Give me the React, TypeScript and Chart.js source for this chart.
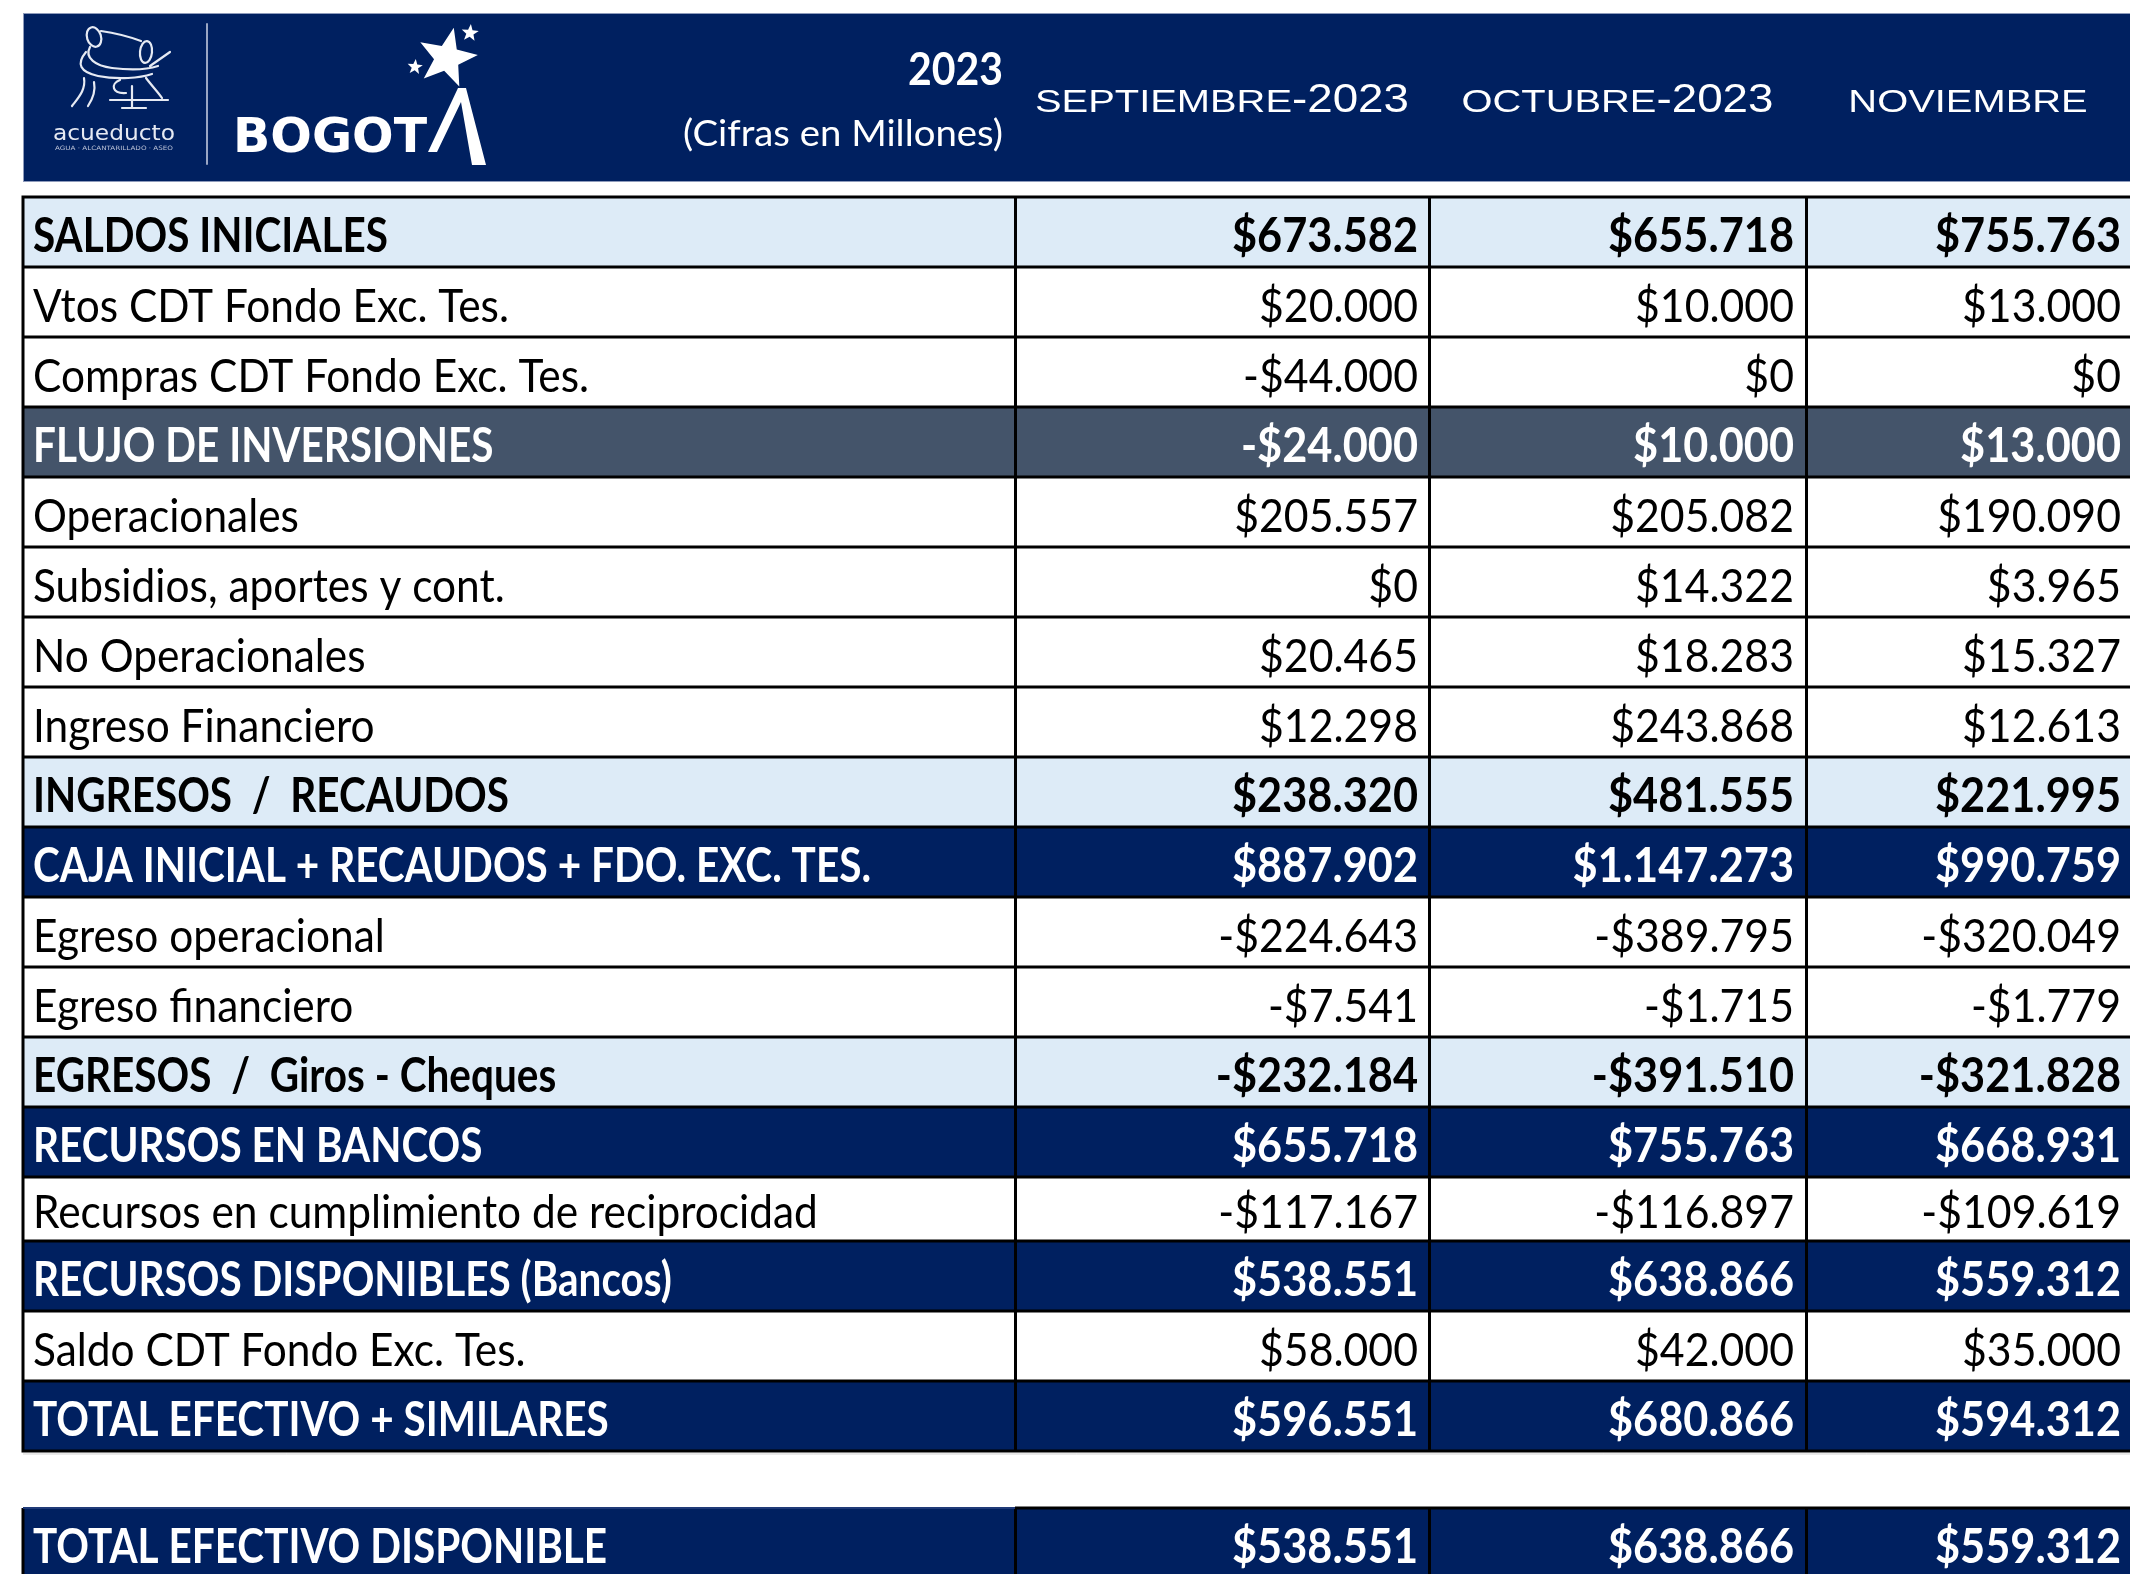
import React, { useEffect, useRef } from 'react';
import { Chart, registerables } from 'chart.js';

Chart.register(...registerables);

// ---------------- DATA ----------------
const rowLabels = [
  'SALDOS INICIALES',
  'Vtos CDT Fondo Exc. Tes.',
  'Compras CDT Fondo Exc. Tes.',
  'FLUJO DE INVERSIONES',
  'Operacionales',
  'Subsidios, aportes y cont.',
  'No Operacionales',
  'Ingreso Financiero',
  'INGRESOS  /  RECAUDOS',
  'CAJA INICIAL + RECAUDOS + FDO. EXC. TES.',
  'Egreso operacional',
  'Egreso financiero',
  'EGRESOS  /  Giros - Cheques',
  'RECURSOS EN BANCOS',
  'Recursos en cumplimiento de reciprocidad',
  'RECURSOS DISPONIBLES (Bancos)',
  'Saldo CDT Fondo Exc. Tes.',
  'TOTAL EFECTIVO + SIMILARES',
  'TOTAL EFECTIVO DISPONIBLE',
];

const rowKinds = [
  'light', 'plain', 'plain', 'slate', 'plain', 'plain', 'plain', 'plain', 'light',
  'navy', 'plain', 'plain', 'light', 'navy', 'plain', 'navy', 'plain', 'navy', 'navy',
];

const monthNames = ['SEPTIEMBRE', 'OCTUBRE', 'NOVIEMBRE'];
const monthYears = ['-2023', '-2023', ''];
const headerYear = '2023';
const headerNote = '(Cifras en Millones)';

const septiembre = [
  673582, 20000, -44000, -24000, 205557, 0, 20465, 12298, 238320,
  887902, -224643, -7541, -232184, 655718, -117167, 538551, 58000, 596551, 538551,
];
const octubre = [
  655718, 10000, 0, 10000, 205082, 14322, 18283, 243868, 481555,
  1147273, -389795, -1715, -391510, 755763, -116897, 638866, 42000, 680866, 638866,
];
const noviembre = [
  755763, 13000, 0, 13000, 190090, 3965, 15327, 12613, 221995,
  990759, -320049, -1779, -321828, 668931, -109619, 559312, 35000, 594312, 559312,
];

// ---------------- LAYOUT / STYLE ----------------
const W = 2130;
const H = 1574;
const TABLE_TOP = 197;
const ROW_H = 70;
const COL_EDGES = [23, 1015, 1429, 1806, 2130];
const NUM_PAD = [11, 12, 9];
const rowHeights = rowLabels.map((_, i) => (i === 14 ? 0.914 : 1));
const GAP_BEFORE_LAST = 0.816;
const HEADER_TOP = (13 - TABLE_TOP) / ROW_H;
const HEADER_BOTTOM = (182 - TABLE_TOP) / ROW_H;

const NAVY = '#002060';
const SLATE = '#44546A';
const LIGHT = '#DDEBF7';
const FONT = 'Lato, "Noto Sans", sans-serif';

function fmt(v: number): string {
  const s = Math.abs(v).toString().replace(/\B(?=(\d{3})+(?!\d))/g, '.');
  return (v < 0 ? '-' : '') + '$' + s;
}

function fitScale(ctx: CanvasRenderingContext2D, font: string, sample: string, target: number) {
  ctx.font = font;
  return target / ctx.measureText(sample).width;
}

function drawText(
  ctx: CanvasRenderingContext2D,
  text: string,
  x: number,
  y: number,
  font: string,
  sx: number,
  align: 'left' | 'right' | 'center',
  color: string
) {
  ctx.font = font;
  const w = ctx.measureText(text).width * sx;
  const left = align === 'right' ? x - w : align === 'center' ? x - w / 2 : x;
  ctx.save();
  ctx.translate(left, y);
  ctx.scale(sx, 1);
  ctx.textAlign = 'left';
  ctx.textBaseline = 'alphabetic';
  ctx.fillStyle = color;
  ctx.fillText(text, 0, 0);
  ctx.restore();
}

function star(ctx: CanvasRenderingContext2D, cx: number, cy: number, r: number, rot: number) {
  ctx.beginPath();
  for (let i = 0; i < 10; i++) {
    const rr = i % 2 === 0 ? r : r * 0.42;
    const a = -Math.PI / 2 + rot + (i * Math.PI) / 5;
    const px = cx + rr * Math.cos(a);
    const py = cy + rr * Math.sin(a);
    if (i === 0) ctx.moveTo(px, py);
    else ctx.lineTo(px, py);
  }
  ctx.closePath();
  ctx.fill();
}

function drawLogo(ctx: CanvasRenderingContext2D) {
  ctx.save();
  ctx.strokeStyle = '#e6eaf3';
  ctx.lineWidth = 2.2;
  ctx.lineCap = 'round';
  ctx.lineJoin = 'round';
  ctx.beginPath();
  // eyes
  ctx.ellipse(94, 37, 7, 10, -0.3, 0, Math.PI * 2);
  ctx.moveTo(152, 52);
  ctx.ellipse(146, 52, 6, 11, 0.1, 0, Math.PI * 2);
  // head
  ctx.moveTo(101, 31);
  ctx.quadraticCurveTo(122, 34, 141, 41);
  ctx.moveTo(90, 47);
  ctx.bezierCurveTo(84, 58, 96, 66, 112, 68);
  ctx.bezierCurveTo(128, 70, 146, 70, 158, 66);
  ctx.moveTo(86, 52);
  ctx.bezierCurveTo(76, 64, 80, 72, 98, 76);
  ctx.bezierCurveTo(118, 80, 140, 78, 152, 74);
  ctx.moveTo(150, 66);
  ctx.lineTo(170, 52);
  // legs
  ctx.moveTo(84, 78);
  ctx.bezierCurveTo(86, 90, 78, 98, 72, 106);
  ctx.moveTo(94, 82);
  ctx.bezierCurveTo(96, 92, 92, 100, 88, 106);
  ctx.moveTo(120, 80);
  ctx.bezierCurveTo(110, 84, 112, 94, 126, 93);
  ctx.moveTo(132, 86);
  ctx.lineTo(132, 108);
  ctx.moveTo(122, 108);
  ctx.lineTo(146, 108);
  ctx.moveTo(110, 100);
  ctx.lineTo(168, 100);
  ctx.moveTo(146, 78);
  ctx.bezierCurveTo(152, 86, 158, 92, 162, 98);
  ctx.stroke();

  const af = '22px "DejaVu Sans"';
  drawText(ctx, 'acueducto', 53, 140, af, fitScale(ctx, af, 'acueducto', 122), 'left', '#e6eaf3');
  const sf = '6px "DejaVu Sans"';
  drawText(ctx, 'AGUA · ALCANTARILLADO · ASEO', 55, 150, sf, fitScale(ctx, sf, 'AGUA · ALCANTARILLADO · ASEO', 118), 'left', '#b8c0d6');

  // divider
  ctx.strokeStyle = '#9aa6c4';
  ctx.lineWidth = 2;
  ctx.beginPath();
  ctx.moveTo(207, 24);
  ctx.lineTo(207, 164);
  ctx.stroke();

  // BOGOTA
  const bf = 'bold 48px "DejaVu Sans"';
  const bsx = fitScale(ctx, bf, 'BOGOT', 194);
  drawText(ctx, 'BOGOT', 233, 152, bf, bsx, 'left', '#ffffff');
  ctx.fillStyle = '#ffffff';
  ctx.beginPath();
  ctx.moveTo(428, 152);
  ctx.lineTo(437, 152);
  ctx.lineTo(461, 102);
  ctx.lineTo(472, 165);
  ctx.lineTo(486, 165);
  ctx.lineTo(466, 88);
  ctx.lineTo(458, 88);
  ctx.closePath();
  ctx.fill();
  star(ctx, 447, 58, 31, 0.22);
  star(ctx, 470, 33, 9, 0.1);
  star(ctx, 415, 67, 8, 0.1);
  ctx.restore();
}

const tablePlugin = {
  id: 'cashTable',
  afterDraw(chart: any) {
    const ctx: CanvasRenderingContext2D = chart.ctx;
    const xs = chart.scales.x;
    const ys = chart.scales.y;
    const px = (v: number) => xs.getPixelForValue(v);
    const py = (v: number) => ys.getPixelForValue(v);

    // header band
    ctx.save();
    ctx.fillStyle = NAVY;
    const hx0 = px(COL_EDGES[0]);
    const hy0 = py(HEADER_TOP);
    const hy1 = py(HEADER_BOTTOM);
    ctx.fillRect(hx0, hy0, px(W) - hx0, hy1 - hy0);
    ctx.strokeStyle = '#8e9bbb';
    ctx.lineWidth = 1;
    ctx.strokeRect(hx0 + 0.5, hy0 + 0.5, px(W) - hx0, hy1 - hy0 - 1);
    ctx.restore();

    drawLogo(ctx);

    const yearFont = `bold 46px ${FONT}`;
    const noteFont = `36px ${FONT}`;
    const labelRight = px(COL_EDGES[1]) - 12;
    drawText(ctx, headerYear, labelRight, hy0 + 72, yearFont, fitScale(ctx, yearFont, '2023', 95), 'right', '#ffffff');
    drawText(ctx, headerNote, labelRight, hy0 + 133, noteFont, fitScale(ctx, noteFont, '(Cifras en Millones)', 320), 'right', '#ffffff');

    const mFont = `32px "Liberation Sans"`;
    const yFont = `40px "Liberation Sans"`;
    const msx = fitScale(ctx, mFont, 'SEPTIEMBRE', 257);
    const ysx = fitScale(ctx, yFont, '-2023', 117);
    monthNames.forEach((m, i) => {
      const cx = (px(COL_EDGES[i + 1]) + px(COL_EDGES[i + 2])) / 2;
      ctx.font = mFont;
      const w1 = ctx.measureText(m).width * msx;
      ctx.font = yFont;
      const w2 = monthYears[i] ? ctx.measureText(monthYears[i]).width * ysx : 0;
      const start = cx - (w1 + w2) / 2;
      const base = hy0 + 99;
      drawText(ctx, m, start, base, mFont, msx, 'left', '#ffffff');
      if (monthYears[i]) drawText(ctx, monthYears[i], start + w1, base, yFont, ysx, 'left', '#ffffff');
    });

    // table
    const boldLabel = `bold 47px ${FONT}`;
    const regLabel = `47px ${FONT}`;
    const sBoldLabel = fitScale(ctx, boldLabel, 'SALDOS INICIALES', 355);
    const sRegLabel = fitScale(ctx, regLabel, 'Vtos CDT Fondo Exc. Tes.', 476);
    const sBoldNum = fitScale(ctx, boldLabel, '$673.582', 186);
    const sRegNum = fitScale(ctx, regLabel, '$20.000', 159);

    const series = [septiembre, octubre, noviembre];
    const tops: number[] = [];
    let t = 0;
    rowLabels.forEach((_, i) => {
      if (i === rowLabels.length - 1) t += GAP_BEFORE_LAST;
      tops.push(t);
      t += rowHeights[i];
    });

    const x0 = px(COL_EDGES[0]);
    const xEnd = px(W);
    rowLabels.forEach((label, i) => {
      const top = py(tops[i]);
      const bot = py(tops[i] + rowHeights[i]);
      const kind = rowKinds[i];
      const bg = kind === 'light' ? LIGHT : kind === 'slate' ? SLATE : kind === 'navy' ? NAVY : '#ffffff';
      ctx.fillStyle = bg;
      ctx.fillRect(x0, top, xEnd - x0, bot - top);
      const bold = kind !== 'plain';
      const color = kind === 'navy' || kind === 'slate' ? '#ffffff' : '#000000';
      const base = top + (bot - top) * 0.79;
      drawText(ctx, label, x0 + 10, base, bold ? boldLabel : regLabel, bold ? sBoldLabel : sRegLabel, 'left', color);
      series.forEach((s, c) => {
        const right = px(COL_EDGES[c + 2]) - NUM_PAD[c];
        drawText(ctx, fmt(s[i]), right, base, bold ? boldLabel : regLabel, bold ? sBoldNum : sRegNum, 'right', color);
      });
    });

    // borders
    ctx.save();
    ctx.strokeStyle = '#000000';
    ctx.lineWidth = 3;
    const mainEnd = tops[rowLabels.length - 2] + rowHeights[rowLabels.length - 2];
    ctx.beginPath();
    for (let i = 0; i < rowLabels.length - 1; i++) {
      const yy = py(tops[i]);
      ctx.moveTo(x0 - 1.5, yy);
      ctx.lineTo(xEnd, yy);
    }
    ctx.moveTo(x0 - 1.5, py(mainEnd));
    ctx.lineTo(xEnd, py(mainEnd));
    const lastTop = py(tops[rowLabels.length - 1]);
    ctx.moveTo(px(COL_EDGES[1]), lastTop);
    ctx.lineTo(xEnd, lastTop);
    for (let c = 0; c < 4; c++) {
      const xx = px(COL_EDGES[c]) + (c === 0 ? 0 : 0.5);
      ctx.moveTo(xx, py(0));
      ctx.lineTo(xx, py(mainEnd));
      ctx.moveTo(xx, lastTop);
      ctx.lineTo(xx, py(ys.max));
    }
    ctx.stroke();
    ctx.strokeStyle = '#1f3a78';
    ctx.lineWidth = 2;
    ctx.beginPath();
    ctx.moveTo(x0, lastTop);
    ctx.lineTo(px(COL_EDGES[1]), lastTop);
    ctx.stroke();
    ctx.strokeStyle = '#d0d0d0';
    ctx.lineWidth = 1;
    ctx.beginPath();
    ctx.moveTo(x0, py(mainEnd) + 3);
    ctx.lineTo(xEnd, py(mainEnd) + 3);
    ctx.stroke();
    ctx.restore();
  },
};

export default function App() {
  const canvasRef = useRef<HTMLCanvasElement | null>(null);

  useEffect(() => {
    const canvas = canvasRef.current;
    if (!canvas) return;
    const chart = new Chart(canvas, {
      type: 'scatter',
      data: { datasets: [{ data: [], showLine: false }] },
      options: {
        responsive: false,
        animation: false,
        devicePixelRatio: 1,
        layout: { padding: 0 },
        plugins: { legend: { display: false }, tooltip: { enabled: false } },
        scales: {
          x: { type: 'linear', min: 0, max: W, display: false },
          y: {
            type: 'linear',
            min: -TABLE_TOP / ROW_H,
            max: (H - TABLE_TOP) / ROW_H,
            reverse: true,
            display: false,
          },
        },
      },
      plugins: [tablePlugin],
    } as any);
    return () => chart.destroy();
  }, []);

  return (
    <div style={{ position: 'absolute', left: 0, top: 0, width: W, height: H, background: '#ffffff' }}>
      <canvas ref={canvasRef} width={W} height={H} style={{ display: 'block', width: W, height: H }} />
    </div>
  );
}
